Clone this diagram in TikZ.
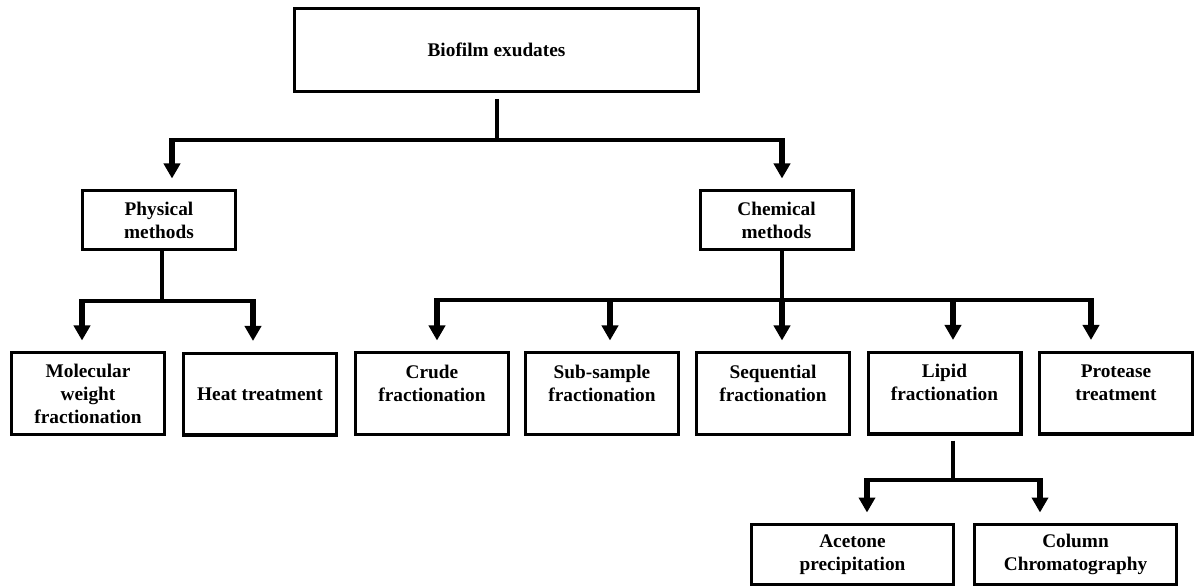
\documentclass[tikz,border=0pt]{standalone}
\usepackage{fontspec}
\newfontfamily\boxfont{Liberation Serif}
\usetikzlibrary{arrows.meta}
\begin{document}
\begin{tikzpicture}[x=1pt,y=-1pt,
  box/.style={draw=black, line width=3.4pt, inner sep=0pt, align=center,
    font=\boxfont\bfseries\fontsize{19.3}{23}\selectfont, fill=white},
  topbox/.style={box, minimum width=403.6pt, minimum height=82.6pt},
  midbox/.style={box, minimum width=152.6pt, minimum height=58.6pt},
  leafbox/.style={box, minimum width=152.6pt, minimum height=81.6pt},
  lowbox/.style={box, minimum width=201.6pt, minimum height=59.6pt},
  bus/.style={line width=3.2pt, line cap=square},
  feed/.style={line width=3.2pt},
  stem/.style={line width=5.2pt, shorten <=-1.6pt, shorten >=10.5pt,
    -{Triangle[width=16pt,length=15pt]}}
]
\useasboundingbox (0,0) rectangle (1203,588);

% boxes
\node[topbox] (bio) at (496.5,50) {Biofilm exudates};
\node[midbox] (phys) at (159,220) {Physical\\methods};
\node[midbox] (chem) at (776.5,220) {Chemical\\methods};
\node[leafbox] (mw) at (88,393.5) {Molecular\\weight\\fractionation};
\node[leafbox] (heat) at (260,394) {Heat treatment};
\node[leafbox] (crude) at (432,393.5) {Crude\\fractionation\\[-2pt]\mbox{}};
\node[leafbox] (sub) at (602,393.5) {Sub-sample\\fractionation\\[-2pt]\mbox{}};
\node[leafbox] (seq) at (773,393.5) {Sequential\\fractionation\\[-2pt]\mbox{}};
\node[leafbox] (lipid) at (944.5,393) {Lipid\\fractionation\\[-2pt]\mbox{}};
\node[leafbox] (prot) at (1116,393) {Protease\\treatment\\[-2pt]\mbox{}};
\node[lowbox] (acet) at (852.5,554.5) {Acetone\\precipitation};
\node[lowbox] (col) at (1075.5,554.5) {Column\\Chromatography};

% top level
\coordinate (tj) at (497,140);
\coordinate (tl) at (172,140);
\coordinate (tr) at (782,140);
\draw[feed, shorten <=6pt] (bio.south -| tj) -- (tj);
\draw[bus] (tl) -- (tr);
\draw[stem] (tl) -- (tl |- phys.north);
\draw[stem] (tr) -- (tr |- chem.north);

% physical methods
\coordinate (pj) at (162,301);
\coordinate (p1) at (82,301);
\coordinate (p2) at (253,301);
\draw[feed] (phys.south -| pj) -- (pj);
\draw[bus] (p1) -- (p2);
\draw[stem] (p1) -- (p1 |- mw.north);
\draw[stem] (p2) -- (p2 |- heat.north);

% chemical methods
\coordinate (cj) at (782,300);
\coordinate (c1) at (437,300);
\coordinate (c2) at (610,300);
\coordinate (c3) at (782,300);
\coordinate (c4) at (953,300);
\coordinate (c5) at (1091,300);
\draw[feed] (chem.south -| cj) -- (cj);
\draw[bus] (c1) -- (c5);
\draw[stem] (c1) -- (c1 |- crude.north);
\draw[stem] (c2) -- (c2 |- sub.north);
\draw[stem] (c3) -- (c3 |- seq.north);
\draw[stem] (c4) -- (c4 |- lipid.north);
\draw[stem] (c5) -- (c5 |- prot.north);

% lipid fractionation
\coordinate (lj) at (953,480);
\coordinate (l1) at (867,480);
\coordinate (l2) at (1040,480);
\draw[feed, shorten <=5pt] (lipid.south -| lj) -- (lj);
\draw[bus] (l1) -- (l2);
\draw[stem] (l1) -- (l1 |- acet.north);
\draw[stem] (l2) -- (l2 |- col.north);
\end{tikzpicture}
\end{document}
